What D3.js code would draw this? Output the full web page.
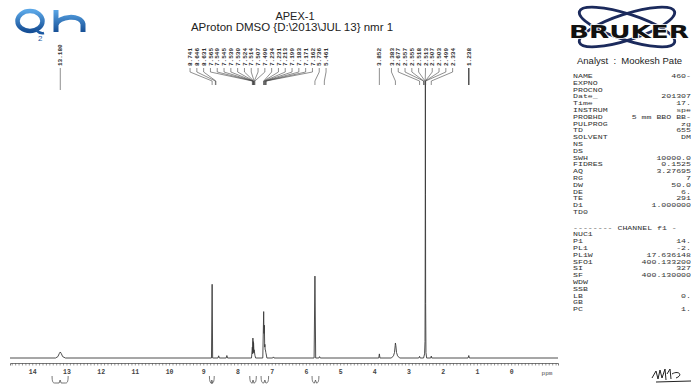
<!DOCTYPE html>
<html>
<head>
<meta charset="utf-8">
<script src="https://cdn.jsdelivr.net/npm/d3@7"></script>
<style>
  body { margin: 0; background: #fff; }
  svg { display: block; }
</style>
</head>
<body>
<div id="chart"></div>
<script>
const spectrum = [
  [14.65, 0], [13.32, 0], [13.25, 0.5], [13.21, 1.6], [13.18, 2.2], [13.15, 1.6], [13.11, 0.5], [13.03, 0],
  [8.76, 0], [8.741, 27], [8.726, 0],
  [8.57, 0], [8.55, 0.8], [8.53, 0], [8.33, 0], [8.31, 0.9], [8.29, 0],
  [7.59, 0], [7.565, 4], [7.556, 1.5], [7.549, 7.3], [7.543, 3], [7.539, 6], [7.534, 2], [7.530, 5.5],
  [7.524, 4], [7.518, 2], [7.514, 3], [7.507, 2.5], [7.49, 1], [7.47, 0],
  [7.26, 0], [7.234, 17], [7.226, 9], [7.213, 12], [7.205, 4], [7.199, 5], [7.19, 3], [7.183, 3],
  [7.171, 2], [7.162, 1.5], [7.14, 0],
  [6.97, 0], [6.95, 0.4], [6.93, 0],
  [5.76, 0], [5.736, 30], [5.714, 0],
  [5.62, 0], [5.60, 0.5], [5.58, 0],
  [3.87, 0], [3.852, 1.5], [3.835, 0],
  [3.50, 0], [3.44, 0.8], [3.41, 2], [3.39, 4.5], [3.383, 5.5], [3.37, 4.5], [3.35, 2], [3.32, 0.8], [3.26, 0],
  [2.70, 0], [2.677, 0.6], [2.66, 0],
  [2.56, 0], [2.53, 1.5], [2.518, 6], [2.513, 30], [2.507, 100], [2.503, 60], [2.499, 20], [2.49, 2], [2.47, 0],
  [2.35, 0], [2.334, 0.7], [2.32, 0],
  [1.26, 0], [1.238, 0.9], [1.22, 0],
  [-1.37, 0]
];

// Подписи пиков (ppm)
const peakLabels = [
  13.180,
  8.741, 8.646, 8.631,
  7.565, 7.549, 7.545, 7.539, 7.530, 7.524, 7.514, 7.507, 7.490,
  7.234, 7.231, 7.213, 7.199, 7.183, 7.171, 7.162,
  5.736, 5.461,
  3.852, 3.383,
  2.677, 2.557, 2.555, 2.518, 2.513, 2.507, 2.503, 2.499, 2.334,
  1.238
];

// Интегралы (от, до), ppm
const integrals = [[13.42, 12.95], [8.82, 8.68], [7.64, 7.45], [7.31, 7.09], [5.82, 5.62]];

// Параметры прибора
const paramNames = ["NAME", "EXPNO", "PROCNO", "Date_", "Time", "INSTRUM", "PROBHD", "PULPROG", "TD", "SOLVENT",
  "NS", "DS", "SWH", "FIDRES", "AQ", "RG", "DW", "DE", "TE", "D1", "TD0"];
const paramValues = ["460-", "", "", "201307", "17.", "spe", "5 mm BBO BB-", "zg", "655", "DM",
  "", "", "10000.0", "0.1525", "3.27695", "7", "50.0", "6.", "291", "1.000000", ""];
const channelNames = ["NUC1", "P1", "PL1", "PL1W", "SFO1", "SI", "SF", "WDW", "SSB", "LB", "GB", "PC"];
const channelValues = ["", "14.", "-2.", "17.636148", "400.133200", "327", "400.130000", "", "", "0.", "", "1."];

const width = 691;
const height = 385;

const svg = d3.select("#chart").append("svg")
  .attr("width", width)
  .attr("height", height);

// Шкалы
const x = d3.scaleLinear().domain([14.65, -1.37]).range([10, 558]);
const y = d3.scaleLinear().domain([0, 100]).range([358, 85]);

// Линия спектра
svg.append("path")
  .datum(spectrum)
  .attr("d", d3.line().x(d => x(d[0])).y(d => y(d[1])))
  .attr("fill", "none")
  .attr("stroke", "#3a3a3a")
  .attr("stroke-width", 0.9);

// Ось ppm
const xAxis = d3.axisBottom(x)
  .tickValues(d3.range(-13, 147).map(i => i / 10))
  .tickSize(2.5)
  .tickPadding(4)
  .tickFormat(d => (d >= 0 && Math.abs(d - Math.round(d)) < 1e-6) ? Math.round(d) : "");

const axisG = svg.append("g")
  .attr("transform", "translate(0,363)")
  .call(xAxis);
axisG.select(".domain").attr("stroke", "#555").attr("stroke-width", 0.8);
axisG.selectAll(".tick line").attr("stroke", "#555").attr("stroke-width", 0.6);
axisG.selectAll(".tick text")
  .style("font-family", "Liberation Mono, monospace")
  .style("font-size", "6.5px")
  .style("font-weight", "bold")
  .style("fill", "#444");

svg.append("text")
  .attr("x", 547).attr("y", 375)
  .attr("text-anchor", "middle")
  .text("ppm")
  .style("font-family", "Liberation Mono, monospace")
  .style("font-size", "6px")
  .style("fill", "#444");

// Интегралы под осью
integrals.forEach(r => {
  const x1 = x(r[0]), x2 = x(r[1]), xm = (x1 + x2) / 2;
  svg.append("path")
    .attr("d", `M${x1},376 C${x1},382 ${x1 + 1},383 ${x1 + 2.5},383 L${xm - 1},383 L${xm},380 L${xm + 1},383 L${x2 - 2.5},383 C${x2 - 1},383 ${x2},382 ${x2},376`)
    .attr("fill", "none")
    .attr("stroke", "#555")
    .attr("stroke-width", 0.8);
});

// Раскладка подписей пиков, чтобы не налезали
const gap = 6.8;
const items = peakLabels.map(p => ({ p, want: x(p) }));
let clusters = items.map(it => ({ list: [it], sum: it.want }));
let changed = true;
function placeCluster(c) {
  const n = c.list.length;
  c.start = c.sum / n - (n - 1) * gap / 2;
  c.end = c.start + (n - 1) * gap;
}
clusters.forEach(placeCluster);
while (changed) {
  changed = false;
  for (let i = 0; i < clusters.length - 1; i++) {
    if (clusters[i + 1].start - clusters[i].end < gap) {
      clusters[i].list = clusters[i].list.concat(clusters[i + 1].list);
      clusters[i].sum += clusters[i + 1].sum;
      placeCluster(clusters[i]);
      clusters.splice(i + 1, 1);
      changed = true;
      break;
    }
  }
}
clusters.forEach(c => c.list.forEach((it, i) => it.lx = c.start + i * gap));

const labelG = svg.append("g");
items.forEach(it => {
  labelG.append("text")
    .attr("transform", `translate(${it.lx},66) rotate(-90)`)
    .attr("dy", "0.35em")
    .text(it.p.toFixed(3))
    .style("font-family", "Liberation Mono, monospace")
    .style("font-size", "6px")
    .style("font-weight", "bold")
    .style("fill", "#333");
  const px = x(it.p);
  const bottom = it.p > 13 ? 90 : 85;
  labelG.append("path")
    .attr("d", `M${it.lx},68 L${it.lx},72 L${px},81 L${px},${bottom}`)
    .attr("fill", "none")
    .attr("stroke", "#444")
    .attr("stroke-width", it.p < 1.5 ? 1.4 : 0.6);
});

// Заголовок
svg.append("text")
  .attr("x", 295).attr("y", 20)
  .attr("text-anchor", "middle")
  .text("APEX-1")
  .style("font-family", "Liberation Sans, Arial, sans-serif")
  .style("font-size", "11px")
  .style("fill", "#222");
svg.append("text")
  .attr("x", 292).attr("y", 31)
  .attr("text-anchor", "middle")
  .text("AProton DMSO {D:\\2013\\JUL 13} nmr 1")
  .style("font-family", "Liberation Sans, Arial, sans-serif")
  .style("font-size", "11.5px")
  .style("fill", "#222");

// Логотип Q2h
const defs = svg.append("defs");
const grad = defs.append("linearGradient").attr("id", "qg").attr("x1", 0).attr("y1", 0).attr("x2", 0).attr("y2", 1);
grad.append("stop").attr("offset", "0%").attr("stop-color", "#5aa6e6");
grad.append("stop").attr("offset", "100%").attr("stop-color", "#164f96");
svg.append("ellipse")
  .attr("cx", 30).attr("cy", 21).attr("rx", 12.5).attr("ry", 10)
  .attr("fill", "none").attr("stroke", "url(#qg)").attr("stroke-width", 4.5);
svg.append("path")
  .attr("d", "M36,30 C39,33 41,34 44,33")
  .attr("fill", "none").attr("stroke", "#1c5aa3").attr("stroke-width", 2.5);
svg.append("path")
  .attr("d", "M56,10 L56,32 M56,25 C58,16 81,14 83,24 L83,32")
  .attr("fill", "none").attr("stroke", "url(#qg)").attr("stroke-width", 5);
svg.append("text")
  .attr("x", 38).attr("y", 41)
  .text("2")
  .style("font-family", "Liberation Sans, Arial, sans-serif")
  .style("font-size", "8px")
  .style("fill", "#1c5aa3");

// Логотип Bruker
[-18, 18].forEach(a => {
  svg.append("ellipse")
    .attr("cx", 627).attr("cy", 27).attr("rx", 50).attr("ry", 13)
    .attr("transform", `rotate(${a},627,27)`)
    .attr("fill", "none").attr("stroke", "#1b2a5c").attr("stroke-width", 2.8);
});
svg.append("text")
  .attr("x", 569).attr("y", 38)
  .attr("textLength", 120)
  .attr("lengthAdjust", "spacingAndGlyphs")
  .text("BRUKER")
  .style("font-family", "DejaVu Sans, sans-serif")
  .style("font-size", "18px")
  .style("font-weight", "bold")
  .style("fill", "#111")
  .style("stroke", "#fff")
  .style("stroke-width", 1.5)
  .style("paint-order", "stroke");

svg.append("text")
  .attr("x", 577).attr("y", 64)
  .text("Analyst  :  Mookesh Pate")
  .attr("xml:space", "preserve")
  .style("white-space", "pre")
  .style("font-family", "Liberation Sans, Arial, sans-serif")
  .style("font-size", "9.5px")
  .style("fill", "#222");

// Таблица параметров (моноширинный шрифт, растянут по ширине)
const rowStep = 6.8;
const stretch = 1.4;
const paramG = svg.append("g").attr("transform", `translate(573,0) scale(${stretch},1)`);
const valueX = (691 - 573) / stretch;
const monoStyle = sel => sel
  .style("font-family", "Liberation Mono, monospace")
  .style("font-size", "5.9px")
  .style("fill", "#333");

paramNames.forEach((n, i) => {
  const yy = 78 + i * rowStep;
  monoStyle(paramG.append("text").attr("x", 0).attr("y", yy).text(n));
  monoStyle(paramG.append("text").attr("x", valueX).attr("y", yy).attr("text-anchor", "end").text(paramValues[i]));
});
const chY = 78 + (paramNames.length - 1 + 2.3) * rowStep;
monoStyle(paramG.append("text").attr("x", 0).attr("y", chY).text("-------- CHANNEL f1 -"));
channelNames.forEach((n, i) => {
  const yy = chY + (i + 1) * rowStep;
  monoStyle(paramG.append("text").attr("x", 0).attr("y", yy).text(n));
  monoStyle(paramG.append("text").attr("x", valueX).attr("y", yy).attr("text-anchor", "end").text(channelValues[i]));
});

// Подпись
svg.append("path")
  .attr("d", "M652,378 L656,371 L658,379 L660,370 L662,378 L665,369 L666,380 M667,374 L670,369 L671,379 M672,374 C678,370 684,375 676,378 M656,382 L691,381")
  .attr("fill", "none").attr("stroke", "#222").attr("stroke-width", 1);
</script>
</body>
</html>
